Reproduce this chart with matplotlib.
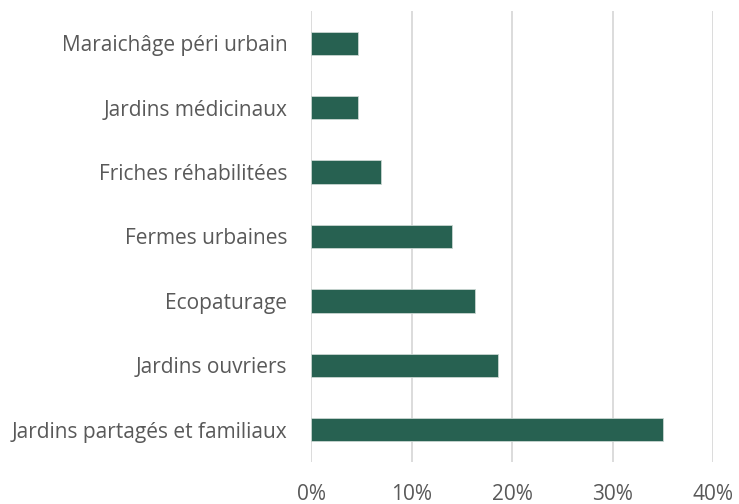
import matplotlib
matplotlib.use("Agg")
import matplotlib.pyplot as plt
from matplotlib.ticker import FuncFormatter

categories = ["Jardins partagés et familiaux", "Jardins ouvriers", "Ecopaturage",
              "Fermes urbaines", "Friches réhabilitées", "Jardins médicinaux",
              "Maraichâge péri urbain"]
values = [35.0, 18.6, 16.3, 14.0, 7.0, 4.65, 4.65]
xticks = [0, 10, 20, 30, 40]

plt.rcParams['font.family'] = ['Open Sans', 'DejaVu Sans']

fig = plt.figure(figsize=(7.39, 5.04), dpi=100)
ax = fig.add_axes([311/739, 42/504, 402/739, 451/504])

ax.barh(range(len(categories)), values, height=0.36, color="#276151",
        edgecolor="#c9d6d1", linewidth=0.6, zorder=3)
ax.set_yticks(range(len(categories)))
ax.set_yticklabels(categories)
ax.set_ylim(-0.5, len(categories) - 0.5)
ax.set_xlim(0, 40)
ax.set_xticks(xticks)
ax.xaxis.set_major_formatter(FuncFormatter(lambda v, p: "%d%%" % v))
ax.grid(axis="x", color="#d9d9d9", linewidth=1.3, zorder=0)
for s in ax.spines.values():
    s.set_visible(False)
ax.tick_params(axis="both", length=0, labelsize=15, labelcolor="#595959")
ax.tick_params(axis="y", pad=17)
ax.tick_params(axis="x", pad=16)

fig.savefig("out.png", dpi=100)
